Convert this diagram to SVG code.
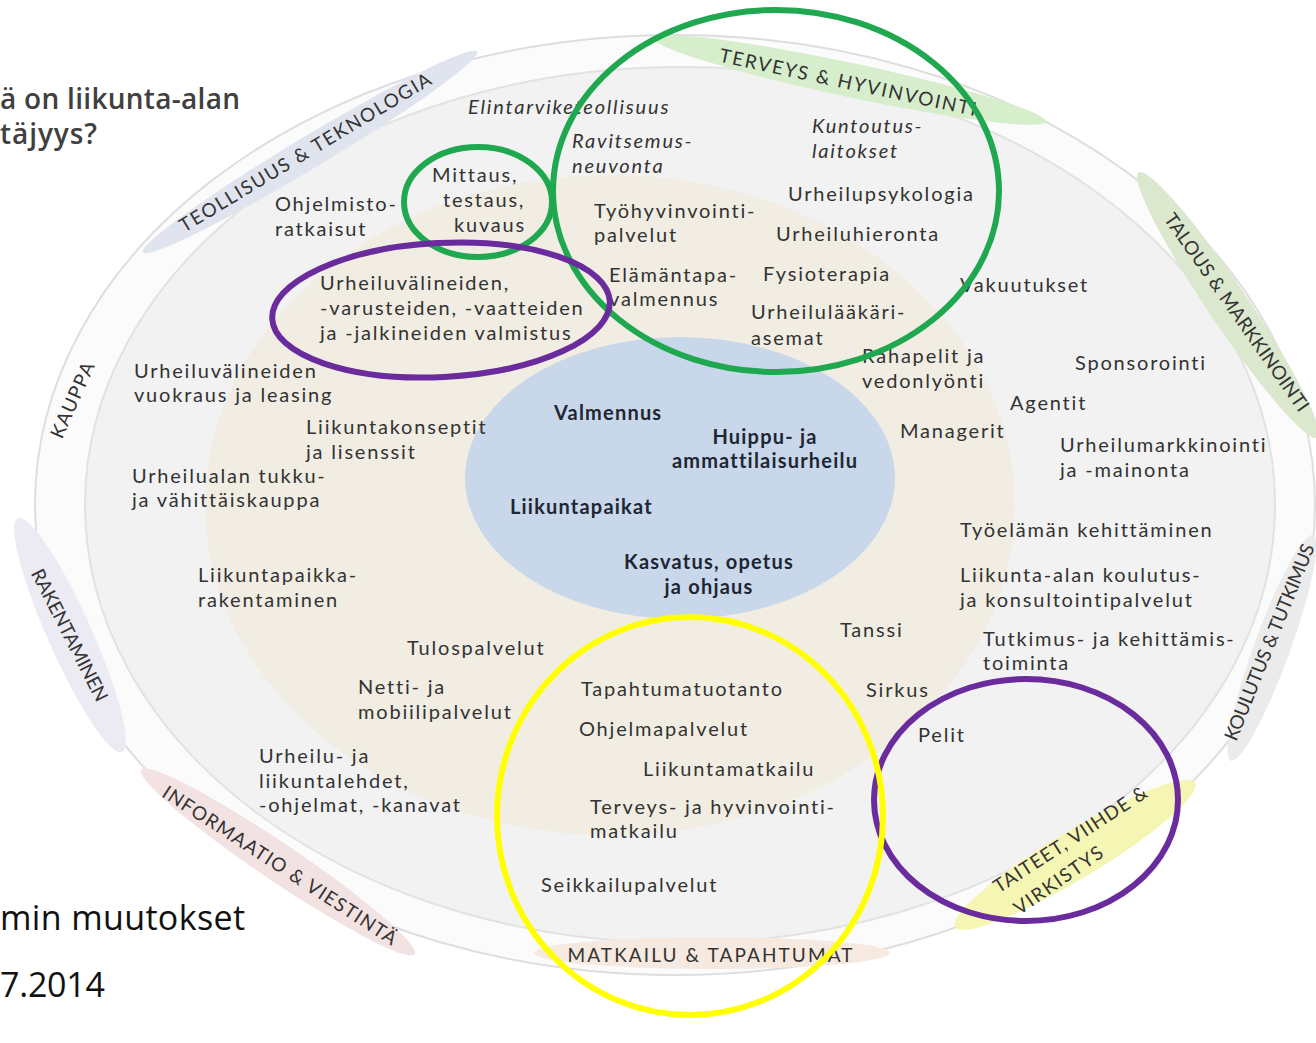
<svg xmlns="http://www.w3.org/2000/svg" width="1316" height="1043" viewBox="0 0 1316 1043">
<style>
  text { font-family: Lato, "Open Sans", "DejaVu Sans", sans-serif; fill: #333; }
  .t { font-size: 20px; letter-spacing: 1.8px; }
  .it { font-style: italic; }
  .b { font-size: 20px; font-weight: 700; letter-spacing: 1.2px; fill: #1e2633; }
  .cat { font-size: 19px; fill: #333; }
  .hd { font-family: "Open Sans", "Noto Sans", sans-serif; font-size: 28px; font-weight: 600; fill: #404040; }
  .ft { font-family: "Open Sans", "Noto Sans", sans-serif; font-size: 34px; fill: #111; }
  .ring { stroke-width: 6; fill: none; }
  .green { stroke: #1fa84f; }
  .purple { stroke: #6a2c9c; }
  .yellow { stroke: #ffff00; }
</style>

<rect width="1316" height="1043" fill="#ffffff"/>

<g id="background">
  <ellipse cx="675" cy="505" rx="640" ry="470" fill="#fbfbfb" stroke="#dedede" stroke-width="2"/>
  <ellipse cx="680" cy="505" rx="595" ry="438" fill="#f2f2f2" stroke="#e2e2e2" stroke-width="2"/>
</g>

<g id="bands">
  <ellipse cx="310" cy="152" rx="195" ry="16" transform="rotate(-31 310 152)" fill="#dfe4ef"/>
  <ellipse cx="850" cy="80" rx="200" ry="17" transform="rotate(12 850 80)" fill="#d6eecc"/>
  <ellipse cx="1228" cy="305" rx="160" ry="20" transform="rotate(56 1228 305)" fill="#dbe8cd"/>
  <ellipse cx="1272" cy="648" rx="120" ry="18" transform="rotate(-70 1272 648)" fill="#ebebeb"/>
  <ellipse cx="1075" cy="855" rx="140" ry="24" transform="rotate(-31 1075 855)" fill="#f5f5b4"/>
  <ellipse cx="712" cy="953" rx="178" ry="16" fill="#f6e9e0"/>
  <ellipse cx="278" cy="862" rx="165" ry="19" transform="rotate(34 278 862)" fill="#f3e2e2"/>
  <ellipse cx="70" cy="635" rx="128" ry="22" transform="rotate(66 70 635)" fill="#ecebf3"/>
</g>

<g id="zones">
  <ellipse id="beige" cx="610" cy="505" rx="405" ry="330" fill="#f1ede3"/>
  <ellipse id="core" cx="680" cy="478" rx="215" ry="141" fill="#c8d7ea"/>
</g>

<g id="categories">
  <text class="cat" x="305" y="159" text-anchor="middle" textLength="290" lengthAdjust="spacing" transform="rotate(-31 305 152)">TEOLLISUUS &amp; TEKNOLOGIA</text>
  <text class="cat" x="848" y="89" text-anchor="middle" textLength="262" lengthAdjust="spacing" transform="rotate(12 848 82)">TERVEYS &amp; HYVINVOINTI</text>
  <text class="cat" x="1237" y="319" text-anchor="middle" textLength="237" lengthAdjust="spacing" transform="rotate(55 1237 312)">TALOUS &amp; MARKKINOINTI</text>
  <text class="cat" x="1269" y="649" text-anchor="middle" textLength="210" lengthAdjust="spacing" transform="rotate(-68 1269 642)">KOULUTUS &amp; TUTKIMUS</text>
  <text class="cat" x="1070" y="846" text-anchor="middle" textLength="179" lengthAdjust="spacing" transform="rotate(-33 1070 839)">TAITEET, VIIHDE &amp;</text>
  <text class="cat" x="1058" y="887" text-anchor="middle" textLength="104" lengthAdjust="spacing" transform="rotate(-35 1058 880)">VIRKISTYS</text>
  <text class="cat" x="710" y="962" text-anchor="middle" textLength="285" lengthAdjust="spacing">MATKAILU &amp; TAPAHTUMAT</text>
  <text class="cat" x="280" y="872" text-anchor="middle" textLength="275" lengthAdjust="spacing" transform="rotate(33 280 865)">INFORMAATIO &amp; VIESTINTÄ</text>
  <text class="cat" x="70" y="642" text-anchor="middle" textLength="146" lengthAdjust="spacing" transform="rotate(63 70 635)">RAKENTAMINEN</text>
  <text class="cat" x="72" y="407" text-anchor="middle" textLength="81" lengthAdjust="spacing" transform="rotate(-66 72 400)">KAUPPA</text>
</g>

<g id="header">
  <text class="hd" x="0" y="109" textLength="240" lengthAdjust="spacing">ä on liikunta-alan</text>
  <text class="hd" x="0" y="144" textLength="97" lengthAdjust="spacing">täjyys?</text>
  <text class="ft" x="0" y="930" textLength="245" lengthAdjust="spacing">min muutokset</text>
  <text class="ft" x="0" y="997" textLength="105" lengthAdjust="spacing">7.2014</text>
</g>

<g id="items">
  <g id="n-elintarvike"><text class="t it" x="468" y="114">Elintarviketeollisuus</text></g>
  <g id="n-ravitsemus"><text class="t it" x="572" y="148">Ravitsemus-</text><text class="t it" x="572" y="173">neuvonta</text></g>
  <g id="n-kuntoutus"><text class="t it" x="812" y="133">Kuntoutus-</text><text class="t it" x="812" y="158">laitokset</text></g>
  <g id="n-mittaus"><text class="t" x="432" y="182">Mittaus,</text><text class="t" x="443" y="207">testaus,</text><text class="t" x="454" y="232">kuvaus</text></g>
  <g id="n-ohjelmisto"><text class="t" x="275" y="211">Ohjelmisto-</text><text class="t" x="275" y="236">ratkaisut</text></g>
  <g id="n-tyohyvinvointi"><text class="t" x="594" y="218">Työhyvinvointi-</text><text class="t" x="594" y="242">palvelut</text></g>
  <g id="n-urheilupsykologia"><text class="t" x="788" y="201">Urheilupsykologia</text></g>
  <g id="n-urheiluhieronta"><text class="t" x="776" y="241">Urheiluhieronta</text></g>
  <g id="n-elamantapa"><text class="t" x="609" y="282">Elämäntapa-</text><text class="t" x="609" y="306">valmennus</text></g>
  <g id="n-fysioterapia"><text class="t" x="763" y="281">Fysioterapia</text></g>
  <g id="n-vakuutukset"><text class="t" x="960" y="292">Vakuutukset</text></g>
  <g id="n-urheilulaakari"><text class="t" x="751" y="319">Urheilulääkäri-</text><text class="t" x="751" y="345">asemat</text></g>
  <g id="n-rahapelit"><text class="t" x="862" y="363">Rahapelit ja</text><text class="t" x="862" y="388">vedonlyönti</text></g>
  <g id="n-sponsorointi"><text class="t" x="1075" y="370">Sponsorointi</text></g>
  <g id="n-agentit"><text class="t" x="1010" y="410">Agentit</text></g>
  <g id="n-managerit"><text class="t" x="900" y="438">Managerit</text></g>
  <g id="n-markkinointi"><text class="t" x="1060" y="452">Urheilumarkkinointi</text><text class="t" x="1060" y="477">ja -mainonta</text></g>
  <g id="n-valmistus"><text class="t" x="320" y="290">Urheiluvälineiden,</text><text class="t" x="320" y="315">-varusteiden, -vaatteiden</text><text class="t" x="320" y="340">ja -jalkineiden valmistus</text></g>
  <g id="n-vuokraus"><text class="t" x="134" y="378">Urheiluvälineiden</text><text class="t" x="134" y="402">vuokraus ja leasing</text></g>
  <g id="n-konseptit"><text class="t" x="306" y="434">Liikuntakonseptit</text><text class="t" x="306" y="459">ja lisenssit</text></g>
  <g id="n-tukku"><text class="t" x="132" y="483">Urheilualan tukku-</text><text class="t" x="132" y="507">ja vähittäiskauppa</text></g>
  <g id="n-valmennus"><text class="b" x="554" y="420">Valmennus</text></g>
  <g id="n-huippu"><text class="b" x="765" y="444" text-anchor="middle">Huippu- ja</text><text class="b" x="765" y="468" text-anchor="middle">ammattilaisurheilu</text></g>
  <g id="n-liikuntapaikat"><text class="b" x="510" y="514">Liikuntapaikat</text></g>
  <g id="n-kasvatus"><text class="b" x="709" y="569" text-anchor="middle">Kasvatus, opetus</text><text class="b" x="709" y="594" text-anchor="middle">ja ohjaus</text></g>
  <g id="n-tyoelama"><text class="t" x="960" y="537">Työelämän kehittäminen</text></g>
  <g id="n-koulutus"><text class="t" x="960" y="582">Liikunta-alan koulutus-</text><text class="t" x="960" y="607">ja konsultointipalvelut</text></g>
  <g id="n-tanssi"><text class="t" x="840" y="637">Tanssi</text></g>
  <g id="n-tutkimus"><text class="t" x="983" y="646">Tutkimus- ja kehittämis-</text><text class="t" x="983" y="670">toiminta</text></g>
  <g id="n-rakentaminen"><text class="t" x="198" y="582">Liikuntapaikka-</text><text class="t" x="198" y="607">rakentaminen</text></g>
  <g id="n-tulospalvelut"><text class="t" x="407" y="655">Tulospalvelut</text></g>
  <g id="n-netti"><text class="t" x="358" y="694">Netti- ja</text><text class="t" x="358" y="719">mobiilipalvelut</text></g>
  <g id="n-tapahtumatuotanto"><text class="t" x="581" y="696">Tapahtumatuotanto</text></g>
  <g id="n-sirkus"><text class="t" x="866" y="697">Sirkus</text></g>
  <g id="n-ohjelmapalvelut"><text class="t" x="579" y="736">Ohjelmapalvelut</text></g>
  <g id="n-pelit"><text class="t" x="918" y="742">Pelit</text></g>
  <g id="n-liikuntamatkailu"><text class="t" x="643" y="776">Liikuntamatkailu</text></g>
  <g id="n-lehdet"><text class="t" x="259" y="763">Urheilu- ja</text><text class="t" x="259" y="788">liikuntalehdet,</text><text class="t" x="259" y="812">-ohjelmat, -kanavat</text></g>
  <g id="n-terveysmatkailu"><text class="t" x="590" y="814">Terveys- ja hyvinvointi-</text><text class="t" x="590" y="838">matkailu</text></g>
  <g id="n-seikkailu"><text class="t" x="541" y="892">Seikkailupalvelut</text></g>
</g>

<g id="highlights">
  <ellipse class="ring green" cx="776" cy="191" rx="223" ry="181"/>
  <ellipse class="ring green" cx="478" cy="202" rx="74" ry="55"/>
  <ellipse class="ring purple" cx="441" cy="310" rx="169" ry="67" transform="rotate(-3 441 310)"/>
  <ellipse class="ring purple" cx="1026" cy="800" rx="152" ry="121"/>
  <ellipse class="ring yellow" cx="690" cy="816" rx="193" ry="199"/>
</g>
</svg>
